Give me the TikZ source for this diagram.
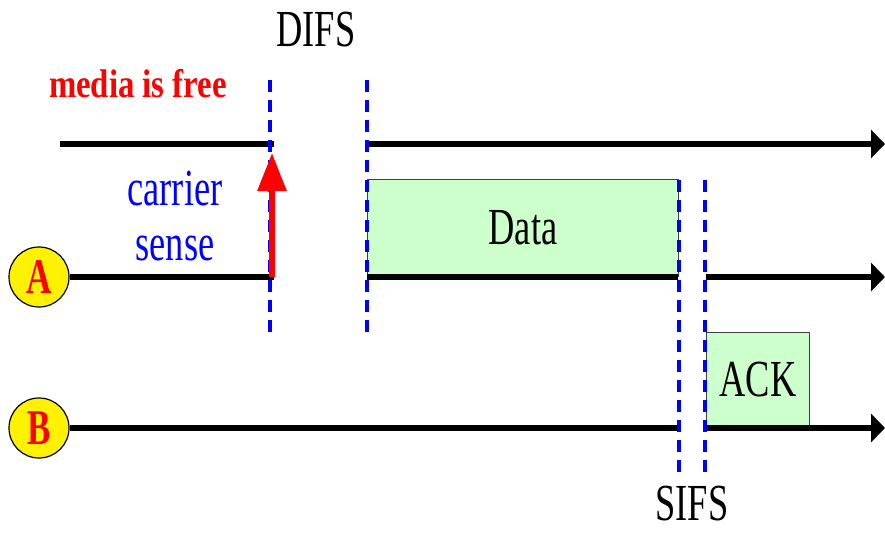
\documentclass[tikz,border=0pt]{standalone}
\usepackage{fontspec}
\setmainfont{Liberation Serif}
\newfontfamily\narrowfont[FakeStretch=0.7]{Liberation Serif}
\newfontfamily\freefont[FakeStretch=0.82]{Liberation Serif}
\usepackage{tikz}
\usetikzlibrary{positioning, arrows.meta}
\definecolor{frameGreen}{RGB}{204,255,204}
\tikzset{Station/.style={%
    shape=circle,%
    draw=black,%
    fill=yellow,%
    minimum size=60pt,%
    line width=1.2pt,%
    inner sep=0pt,%
    text=red,%
    font={\narrowfont\bfseries\fontsize{50}{56}\selectfont},%
}}
\tikzset{Frame/.style={%
    shape=rectangle,%
    draw=black!75,%
    fill=frameGreen,%
    line width=1pt,%
    inner sep=0pt,%
    anchor=south west,%
    font={\narrowfont\fontsize{52}{58}\selectfont},%
}}
\tikzset{TimeLine/.style={%
    -,%
    line width=6pt,%
}}
\tikzset{TimeAxis/.style={%
    -{Triangle[length=14pt,width=28pt]},%
    line width=6pt,%
}}
\tikzset{SlotLine/.style={%
    draw=blue,%
    line width=3.4pt,%
    dash pattern=on 12pt off 8pt,%
}}
\tikzset{SenseArrow/.style={%
    -{Triangle[length=38pt,width=28pt]},%
    draw=red,%
    line width=6pt,%
}}
\tikzset{BigText/.style={%
    inner sep=0pt,%
    anchor=base,%
    font={\narrowfont\fontsize{52}{58}\selectfont},%
}}
\tikzset{FreeText/.style={%
    inner sep=0pt,%
    anchor=base,%
    text=red,%
    font={\freefont\bfseries\fontsize{40}{46}\selectfont},%
}}

\begin{document}
\begin{tikzpicture}[x=1pt, y=-1pt]
    \useasboundingbox (0,0) rectangle (885,535);

    % stations
    \node[Station] (A) at (39,277) {A};
    \node[Station] (B) at (39,428) {B};

    % points on the time lines
    \coordinate (m0) at (60,144);
    \coordinate (m1) at (274,144);
    \coordinate (m2) at (367,144);
    \coordinate (m3) at (885,144);
    \coordinate (a1) at (274,277);
    \coordinate (a2) at (367,277);
    \coordinate (a3) at (678,277);
    \coordinate (a4) at (706,277);
    \coordinate (a5) at (885,277);
    \coordinate (b1) at (678,428);
    \coordinate (b2) at (706,428);
    \coordinate (b3) at (885,428);

    % frames
    \node[Frame, minimum width=311pt, minimum height=97pt] (data) at (a2) {Data};
    \node[Frame, minimum width=103pt, minimum height=95pt] (ack) at (b2) {ACK};

    \path (m0) edge[TimeLine] (m1);
    \path (m2) edge[TimeAxis] (m3);
    \path (A.east) edge[TimeLine] (a1);
    \path (a2) edge[TimeLine] (a3);
    \path (a4) edge[TimeAxis] (a5);
    \path (B.east) edge[TimeLine] (b1);
    \path (b2) edge[TimeAxis] (b3);

    % DIFS and SIFS borders
    \coordinate (d1t) at (270,80);
    \coordinate (d1b) at (270,333);
    \coordinate (d2t) at (367,80);
    \coordinate (d2b) at (367,333);
    \coordinate (s1t) at (679,180);
    \coordinate (s1b) at (679,477);
    \coordinate (s2t) at (705,180);
    \coordinate (s2b) at (705,477);
    \path (d1t) edge[SlotLine] (d1b);
    \path (d2t) edge[SlotLine] (d2b);
    \path (s1t) edge[SlotLine] (s1b);
    \path (s2t) edge[SlotLine] (s2b);

    % carrier sense
    \coordinate (free) at (272,153);
    \path ([xshift=-2pt]a1) edge[SenseArrow] (free);

    \node[BigText] (difs) at (316,47) {DIFS};
    \node[BigText] (sifs) at (692,520) {SIFS};
    \node[FreeText] (media) at (138,97) {media is free};
    \node[BigText, text=blue] (carrier) at (175,205) {carrier};
    \node[BigText, text=blue] (sense) at ([yshift=-55pt]carrier.base) {sense};
\end{tikzpicture}
\end{document}
